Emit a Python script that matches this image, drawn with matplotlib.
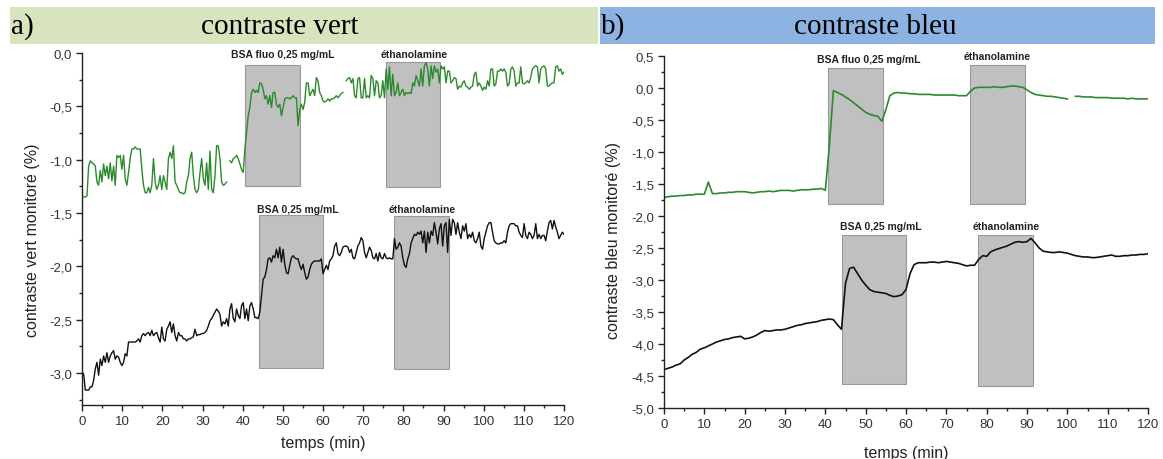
import numpy as np
import matplotlib
matplotlib.use("Agg")
import matplotlib.pyplot as plt
from matplotlib.patches import Rectangle
from matplotlib.ticker import MultipleLocator, FuncFormatter

# ---------------- data ----------------
# panel a : contraste vert (green = BSA fluo, black = BSA)
vert_fluo = [
    -1.35, -1.35, -1.35, -1.34, -1.06, -1.01, -1.03, -1.04, -1.06,
    -1.21, -1.24, -1.10, -1.21, -1.04, -1.15, -1.06, -1.18, -1.03, -1.20,
    -1.06, -1.24, -0.96, -0.98, -0.96, -1.09, -0.96, -1.18, -1.24, -1.12,
    -0.99, -0.90, -0.90, -0.88, -0.90, -0.90, -0.90, -1.09, -1.24, -1.31,
    -1.31, -1.26, -1.31, -1.24, -0.99, -1.21, -1.28, -1.24, -1.15, -1.28,
    -1.15, -1.21, -1.28, -0.99, -0.93, -0.99, -0.87, -1.21, -1.24, -1.28,
    -1.31, -1.31, -1.32, -1.31, -1.21, -1.15, -0.99, -0.93, -1.15, -1.28,
    -1.31, -1.28, -1.12, -0.99, -1.18, -1.24, -1.03, -1.28, -0.92, -1.28,
    -1.31, -1.15, -0.87, -0.87, -0.99, -1.21, -1.24, -1.23, -1.21, np.nan,
    -1.01, -1.03, -0.99, -0.98, -0.96, -0.99, -1.04, -1.09, -1.12, -0.90,
    -0.74, -0.59, -0.51, -0.37, -0.34, -0.37, -0.35, -0.37, -0.28, -0.29,
    -0.34, -0.43, -0.40, -0.48, -0.40, -0.51, -0.37, -0.37, -0.48, -0.51,
    -0.48, -0.59, -0.51, -0.43, -0.42, -0.42, -0.43, -0.42, -0.40, -0.42,
    -0.42, -0.68, -0.53, -0.48, -0.53, -0.46, -0.28, -0.28, -0.40, -0.37,
    -0.34, -0.40, -0.23, -0.26, -0.37, -0.40, -0.45, -0.46, -0.45, -0.43,
    -0.45, -0.43, -0.43, -0.42, -0.40, -0.42, -0.40, -0.38, -0.37, np.nan,
    -0.26, -0.24, -0.23, -0.28, -0.24, -0.40, -0.42, -0.24, -0.23, -0.42,
    -0.42, -0.24, -0.42, -0.40, -0.42, -0.21, -0.24, -0.40, -0.26, -0.28,
    -0.42, -0.40, -0.26, -0.42, -0.15, -0.34, -0.13, -0.40, -0.20, -0.40,
    -0.37, -0.28, -0.40, -0.37, -0.34, -0.40, -0.37, -0.38, -0.37, -0.38,
    -0.28, -0.31, -0.21, -0.26, -0.31, -0.15, -0.31, -0.12, -0.09, -0.15,
    -0.31, -0.12, -0.24, -0.12, -0.18, -0.15, -0.28, -0.12, -0.15, -0.13,
    -0.28, -0.17, -0.17, -0.28, -0.26, -0.23, -0.24, -0.34, -0.31, -0.32,
    -0.28, -0.26, -0.31, -0.32, -0.34, -0.32, -0.31, -0.20, -0.18, -0.31,
    -0.28, -0.31, -0.35, -0.32, -0.34, -0.26, -0.31, -0.15, -0.15, -0.31,
    -0.29, -0.17, -0.17, -0.15, -0.17, -0.15, -0.18, -0.31, -0.29, -0.15,
    -0.13, -0.17, -0.31, -0.28, -0.28, -0.13, -0.28, -0.29, -0.28, -0.26,
    -0.28, -0.23, -0.15, -0.13, -0.12, -0.13, -0.28, -0.15, -0.13, -0.12,
    -0.15, -0.31, -0.31, -0.29, -0.28, -0.28, -0.13, -0.12, -0.17, -0.15,
    -0.20, -0.18,
]
vert_bsa = [
    -2.99, -3.01, -3.16, -3.16, -3.16, -3.13, -3.13, -3.07, -2.96,
    -2.90, -3.02, -2.87, -2.93, -2.84, -2.90, -2.81, -2.90, -2.84, -2.81,
    -2.79, -2.87, -2.84, -2.85, -2.90, -2.93, -2.90, -2.82, -2.84, -2.71,
    -2.71, -2.71, -2.71, -2.71, -2.70, -2.68, -2.71, -2.65, -2.63, -2.65,
    -2.63, -2.62, -2.65, -2.60, -2.65, -2.63, -2.62, -2.67, -2.71, -2.57,
    -2.68, -2.70, -2.59, -2.56, -2.52, -2.62, -2.54, -2.65, -2.70, -2.62,
    -2.65, -2.65, -2.68, -2.68, -2.70, -2.68, -2.68, -2.67, -2.66, -2.59,
    -2.65, -2.64, -2.64, -2.63, -2.63, -2.62, -2.60, -2.56, -2.51, -2.49,
    -2.46, -2.43, -2.40, -2.42, -2.45, -2.56, -2.52, -2.54, -2.49, -2.56,
    -2.40, -2.35, -2.49, -2.52, -2.40, -2.46, -2.49, -2.37, -2.34, -2.49,
    -2.40, -2.51, -2.37, -2.34, -2.40, -2.48, -2.48, -2.49, -2.43, -2.27,
    -2.12, -2.10, -2.03, -1.93, -1.92, -1.96, -1.90, -1.92, -1.84, -1.92,
    -1.82, -1.96, -1.84, -1.98, -2.06, -2.07, -1.99, -1.92, -1.90, -1.92,
    -1.93, -1.93, -1.99, -2.03, -1.98, -2.06, -2.12, -2.10, -2.03, -1.98,
    -1.96, -1.95, -1.95, -1.95, -1.95, -1.93, -2.07, -2.03, -1.99, -2.03,
    -1.95, -1.93, -1.90, -1.81, -1.78, -1.88, -1.90, -1.87, -1.82, -1.81,
    -1.81, -1.82, -1.87, -1.84, -1.92, -1.93, -1.87, -1.81, -1.78, -1.73,
    -1.76, -1.87, -1.92, -1.87, -1.82, -1.85, -1.92, -1.93, -1.88, -1.95,
    -1.87, -1.92, -1.93, -1.88, -1.92, -1.93, -1.92, -1.93, -1.93, -1.74,
    -1.84, -1.82, -1.78, -1.81, -1.92, -1.99, -2.01, -1.93, -1.88, -1.78,
    -1.74, -1.70, -1.71, -1.68, -1.70, -1.67, -1.78, -1.67, -1.87, -1.68,
    -1.78, -1.67, -1.71, -1.59, -1.68, -1.79, -1.65, -1.60, -1.81, -1.62,
    -1.59, -1.87, -1.56, -1.71, -1.56, -1.59, -1.70, -1.59, -1.68, -1.74,
    -1.62, -1.67, -1.60, -1.74, -1.70, -1.73, -1.68, -1.76, -1.78, -1.74,
    -1.68, -1.81, -1.84, -1.74, -1.68, -1.62, -1.59, -1.59, -1.68, -1.76,
    -1.78, -1.79, -1.79, -1.78, -1.78, -1.76, -1.78, -1.68, -1.62, -1.60,
    -1.60, -1.60, -1.62, -1.62, -1.68, -1.71, -1.73, -1.60, -1.71, -1.74,
    -1.68, -1.70, -1.74, -1.71, -1.60, -1.74, -1.70, -1.74, -1.71, -1.71,
    -1.76, -1.67, -1.59, -1.57, -1.65, -1.57, -1.63, -1.68, -1.74, -1.71,
    -1.68, -1.70,
]

# panel b : contraste bleu (1 value per minute, 0..120 min)
bleu_fluo = [
    -1.71, -1.70, -1.69, -1.69, -1.68, -1.68, -1.67, -1.67, -1.66, -1.66,
    -1.66, -1.47, -1.65, -1.65, -1.64, -1.64, -1.63, -1.63, -1.62, -1.62,
    -1.62, -1.63, -1.64, -1.63, -1.62, -1.62, -1.61, -1.62, -1.61, -1.60,
    -1.60, -1.60, -1.61, -1.60, -1.59, -1.59, -1.59, -1.58, -1.58, -1.57,
    -1.60, -0.90, -0.04, -0.07, -0.10, -0.14, -0.18, -0.23, -0.28, -0.33,
    -0.38, -0.41, -0.43, -0.44, -0.52, -0.34, -0.12, -0.08, -0.07, -0.08,
    -0.08, -0.09, -0.09, -0.10, -0.10, -0.10, -0.10, -0.11, -0.11, -0.11,
    -0.11, -0.11, -0.11, -0.12, -0.12, -0.12, -0.05, 0.00, 0.01, 0.01,
    0.01, 0.01, 0.02, 0.01, 0.01, 0.02, 0.03, 0.03, 0.02, 0.01,
    -0.03, -0.07, -0.10, -0.11, -0.12, -0.13, -0.13, -0.14, -0.15, -0.16,
    -0.17, np.nan, -0.13, -0.13, -0.14, -0.14, -0.14, -0.15, -0.15, -0.15,
    -0.15, -0.16, -0.16, -0.16, -0.16, -0.17, -0.16, -0.17, -0.17, -0.17,
    -0.17,
]
bleu_bsa = [
    -4.40, -4.38, -4.36, -4.33, -4.31, -4.25, -4.21, -4.16, -4.13, -4.08,
    -4.06, -4.03, -4.00, -3.97, -3.95, -3.93, -3.92, -3.90, -3.89, -3.88,
    -3.92, -3.91, -3.89, -3.86, -3.82, -3.79, -3.80, -3.79, -3.78, -3.78,
    -3.77, -3.75, -3.73, -3.71, -3.70, -3.68, -3.67, -3.66, -3.65, -3.63,
    -3.62, -3.61, -3.62, -3.70, -3.77, -3.05, -2.82, -2.80, -2.90, -3.00,
    -3.08, -3.15, -3.18, -3.19, -3.20, -3.21, -3.24, -3.26, -3.25, -3.23,
    -3.15, -2.90, -2.76, -2.73, -2.73, -2.73, -2.72, -2.72, -2.73, -2.72,
    -2.71, -2.72, -2.73, -2.74, -2.76, -2.78, -2.77, -2.77, -2.68, -2.62,
    -2.63, -2.56, -2.53, -2.51, -2.49, -2.47, -2.44, -2.41, -2.40, -2.41,
    -2.40, -2.35, -2.42, -2.50, -2.55, -2.56, -2.57, -2.57, -2.56, -2.57,
    -2.58, -2.60, -2.62, -2.63, -2.64, -2.64, -2.65, -2.65, -2.64, -2.63,
    -2.62, -2.61, -2.63, -2.63, -2.62, -2.62, -2.61, -2.61, -2.60, -2.60,
    -2.59,
]

# injection windows: (start min, end min, y bottom, y top, label, label y)
boxes_a = [
    (40.5, 54.2, -1.25, -0.11, "BSA fluo 0,25 mg/mL", 50.0, -0.01),
    (75.8, 89.2, -1.26, -0.08, "éthanolamine", 82.6, -0.01),
    (44.0, 59.9, -2.95, -1.52, "BSA 0,25 mg/mL", 53.7, -1.46),
    (77.7, 91.3, -2.96, -1.53, "éthanolamine", 84.8, -1.46),
]
boxes_b = [
    (40.6, 54.3, -1.81, 0.31, "BSA fluo 0,25 mg/mL", 50.7, 0.46),
    (75.9, 89.4, -1.82, 0.36, "éthanolamine", 82.6, 0.50),
    (44.1, 59.9, -4.63, -2.29, "BSA 0,25 mg/mL", 53.7, -2.16),
    (77.9, 91.4, -4.66, -2.29, "éthanolamine", 84.9, -2.16),
]

t_a = np.linspace(0, 120, len(vert_fluo))
t_b = np.linspace(0, 120, len(bleu_fluo))

GREEN = "#2b8a2b"
BLACK = "#111111"
SANS = "Liberation Sans"
SERIF = "Liberation Serif"

W, H = 1163, 460
fig = plt.figure(figsize=(W / 100, H / 100), dpi=100)

# header bands
def band(x0, x1, color, tag, title, title_cx):
    fig.patches.append(Rectangle((x0 / W, 1 - 45 / H), (x1 - x0) / W, 37 / H,
                                 transform=fig.transFigure, facecolor=color,
                                 edgecolor="none", zorder=0))
    fig.text(x0 / W + 1 / W, 1 - 27 / H, tag, family=SERIF, fontsize=21,
             ha="left", va="center")
    fig.text(title_cx / W, 1 - 27 / H, title, family=SERIF, fontsize=21,
             ha="center", va="center")

band(10, 598, "#d7e4bd", "a)", "contraste vert", 280)
band(600, 1155, "#8db3e2", "b)", "contraste bleu", 875)

comma1 = FuncFormatter(lambda v, p: f"{v:.1f}".replace(".", ",").replace("-0,0", "0,0"))
intfmt = FuncFormatter(lambda v, p: f"{v:.0f}")


def setup(ax, ylim, ylabel, ylab_y, xlab_y):
    ax.set_xlim(0, 120)
    ax.set_ylim(*ylim)
    for s in ("top", "right"):
        ax.spines[s].set_visible(False)
    for s in ("left", "bottom"):
        ax.spines[s].set_linewidth(1.0)
        ax.spines[s].set_color("#222222")
    ax.xaxis.set_major_locator(MultipleLocator(10))
    ax.xaxis.set_minor_locator(MultipleLocator(5))
    ax.yaxis.set_major_locator(MultipleLocator(0.5))
    ax.yaxis.set_minor_locator(MultipleLocator(0.25))
    ax.xaxis.set_major_formatter(intfmt)
    ax.yaxis.set_major_formatter(comma1)
    ax.tick_params(which="major", direction="out", length=4, width=1.0,
                   labelsize=9.5, pad=3, color="#222222")
    ax.tick_params(which="minor", direction="out", length=2.5, width=1.0,
                   color="#222222")
    for lab in ax.get_xticklabels() + ax.get_yticklabels():
        lab.set_family(SANS)
        lab.set_color("#333333")
    ax.set_ylabel(ylabel, family=SANS, fontsize=11.5, color="#222222")
    ax.set_xlabel("temps (min)", family=SANS, fontsize=11.5, color="#222222")
    ax.yaxis.set_label_coords(-0.088, ylab_y)
    ax.xaxis.set_label_coords(0.5, xlab_y)
    ax.patch.set_alpha(0)


def draw_boxes(ax, boxes):
    for x0, x1, y0, y1, lab, lx, ly in boxes:
        ax.add_patch(Rectangle((x0, y0), x1 - x0, y1 - y0, facecolor="#c0c0c0",
                               edgecolor="#9a9a9a", linewidth=0.8, zorder=1))
        ax.text(lx, ly, lab, ha="center", va="center", family=SANS,
                fontweight="bold", fontsize=7.5, color="#222222", zorder=3,
                clip_on=False)


# panel a
axa = fig.add_axes([82 / W, 1 - 406 / H, 482 / W, 352 / H])
setup(axa, (-3.3, 0.0), "contraste vert monitoré (%)", 0.47, -0.085)
draw_boxes(axa, boxes_a)
axa.plot(t_a, vert_fluo, color=GREEN, lw=1.0, zorder=2)
axa.plot(t_a, vert_bsa, color=BLACK, lw=1.0, zorder=2)

# panel b
axb = fig.add_axes([664 / W, 1 - 409 / H, 484 / W, 352 / H])
setup(axb, (-5.0, 0.5), "contraste bleu monitoré (%)", 0.48, -0.105)
draw_boxes(axb, boxes_b)
axb.plot(t_b, bleu_fluo, color=GREEN, lw=1.2, zorder=2)
axb.plot(t_b, bleu_bsa, color=BLACK, lw=1.2, zorder=2)

fig.savefig("out.png", dpi=100)
